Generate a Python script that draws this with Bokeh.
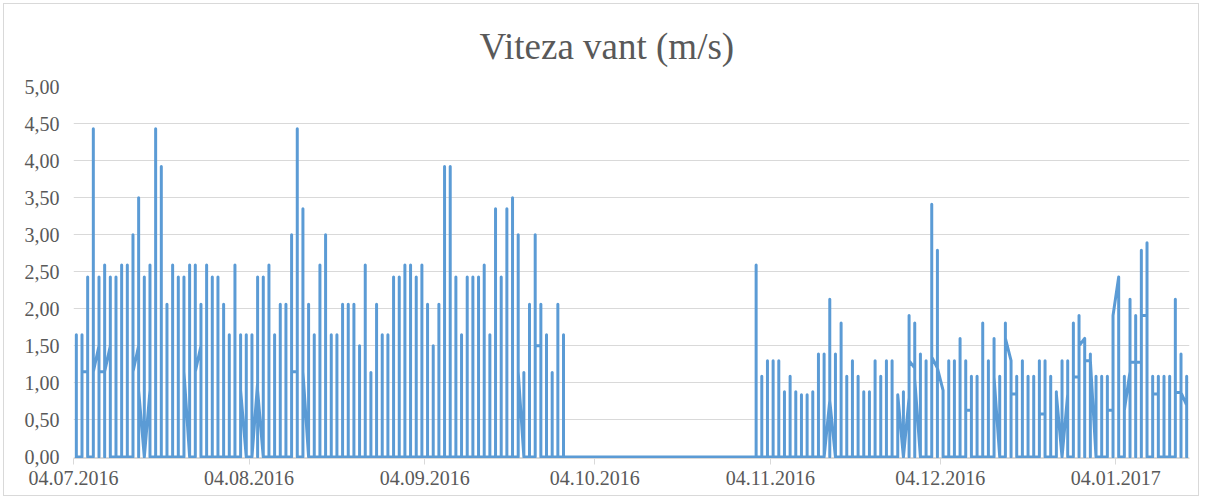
import pandas as pd
from bokeh.plotting import figure
from bokeh.models import Range1d, FixedTicker, CustomJSTickFormatter, DatetimeTickFormatter
from bokeh.embed import file_html
from bokeh.resources import INLINE

# ---------------- data ----------------
first_day = "2016-07-04"

# daily peak wind speed (m/s), one value per day starting 04.07.2016
peak = [
    1.65, 1.65, 2.43, 4.43, 2.43, 2.59, 2.43, 2.43, 2.59, 2.59,
    3.00, 3.50, 2.43, 2.59, 4.43, 3.92, 2.06, 2.59, 2.43, 2.43,
    2.59, 2.59, 2.06, 2.59, 2.43, 2.43, 2.06, 1.65, 2.59, 1.65,
    1.65, 1.65, 2.43, 2.43, 2.59, 1.65, 2.06, 2.06, 3.00, 4.43,
    3.35, 2.06, 1.65, 2.59, 3.00, 1.65, 1.65, 2.06, 2.06, 2.06,
    1.50, 2.59, 1.14, 2.06, 1.65, 1.65, 2.43, 2.43, 2.59, 2.59,
    2.43, 2.59, 2.06, 1.50, 2.06, 3.92, 3.92, 2.43, 1.65, 2.43,
    2.43, 2.43, 2.59, 1.65, 3.35, 2.43, 3.35, 3.50, 3.00, 1.14,
    2.06, 3.00, 2.06, 1.65, 1.14, 2.06, 1.65, 0.00, 0.00, 0.00,
    0.00, 0.00, 0.00, 0.00, 0.00, 0.00, 0.00, 0.00, 0.00, 0.00,
    0.00, 0.00, 0.00, 0.00, 0.00, 0.00, 0.00, 0.00, 0.00, 0.00,
    0.00, 0.00, 0.00, 0.00, 0.00, 0.00, 0.00, 0.00, 0.00, 0.00,
    2.59, 1.09, 1.30, 1.30, 1.30, 0.88, 1.09, 0.88, 0.84, 0.84,
    0.88, 1.39, 1.39, 2.13, 1.39, 1.81, 1.09, 1.30, 1.09, 0.88,
    0.88, 1.30, 1.09, 1.30, 1.30, 0.84, 0.88, 1.91, 1.81, 1.39,
    1.30, 3.41, 2.79, 0.90, 1.30, 1.30, 1.60, 1.30, 1.09, 1.09,
    1.81, 1.30, 1.60, 1.09, 1.81, 1.30, 1.09, 1.30, 1.09, 1.09,
    1.30, 1.30, 1.09, 0.88, 1.30, 1.30, 1.81, 1.91, 1.60, 1.39,
    1.09, 1.09, 1.09, 1.91, 2.43, 1.09, 2.13, 1.91, 2.79, 2.89,
    1.09, 1.09, 1.09, 1.09, 2.13, 1.39, 1.09,
]

# days whose last reading is not zero: level at the end of that day,
# and level of the first reading of the following day
link_day = [1, 3, 4, 5, 10, 11, 12, 19, 21, 29, 31, 32, 38, 40, 78, 81,
            132, 133, 145, 146, 147, 148, 151, 152, 157, 162, 164, 165,
            170, 173, 174, 176, 177, 178, 179, 182, 183, 185, 186, 187,
            188, 190, 194, 195]
link_end = [1.15, 1.15, 1.15, 1.15, 1.15, 0.90, 0.00, 1.15, 1.15, 0.90, 0.00, 0.90, 1.15, 1.15, 1.15, 1.50,
            0.00, 0.76, 0.84, 0.00, 1.30, 1.05, 1.35, 1.20, 0.63, 1.08, 1.60, 0.85,
            0.58, 0.85, 0.00, 1.08, 1.50, 1.30, 1.30, 0.63, 1.91, 0.63, 1.28, 1.28,
            1.91, 0.85, 0.87, 0.87]
link_next = [1.15, 1.50, 1.15, 1.50, 1.50, 0.00, 0.90, 0.00, 1.50, 0.00, 1.00, 0.00, 1.15, 0.00, 0.00, 1.50,
             0.76, 0.00, 0.00, 0.80, 1.20, 0.00, 1.20, 0.90, 0.63, 0.00, 1.30, 0.85,
             0.58, 0.00, 0.85, 1.08, 1.60, 1.30, 0.00, 0.63, 2.43, 1.15, 1.28, 1.28,
             1.91, 0.85, 0.87, 0.70]

tick_dates = ["2016-07-04", "2016-08-04", "2016-09-04", "2016-10-04",
              "2016-11-04", "2016-12-04", "2017-01-04"]
y_ticks = [0.0, 0.5, 1.0, 1.5, 2.0, 2.5, 3.0, 3.5, 4.0, 4.5, 5.0]

# ---------------- build the path (all readings of one day share the day's x) ----------------
n = len(peak)
days = pd.date_range(first_day, periods=n, freq="D")
centers = days + pd.Timedelta(hours=12)
start = [0.0] * n
end = [0.0] * n
for d, a, b in zip(link_day, link_end, link_next):
    end[d] = a
    if d + 1 < n:
        start[d + 1] = b

xs, ys = [], []
for i in range(n):
    for v in (start[i], peak[i], 0.0, end[i]):
        xs.append(centers[i].to_pydatetime())
        ys.append(v)

x0 = days[0].to_pydatetime()
x1 = (days[-1] + pd.Timedelta(days=1)).to_pydatetime()

SERIF = "'Liberation Serif', 'Times New Roman', serif"

p = figure(width=1196, height=493, x_axis_type="datetime",
           x_range=Range1d(x0, x1), y_range=Range1d(-0.02, 5.0),
           output_backend="svg", toolbar_location=None,
           min_border_left=69, min_border_right=11, min_border_top=81, min_border_bottom=39)

p.line(xs, ys, line_color="#5b9bd5", line_width=3, line_join="round", line_cap="round")

# title
p.title.text = "Viteza vant (m/s)"
p.title.text_font = SERIF
p.title.text_font_size = "37px"
p.title.text_font_style = "normal"
p.title.text_color = "#595959"
p.title.align = "left"
p.title.offset = 406
p.title.standoff = 39

p.outline_line_color = None
p.background_fill_color = "white"
p.border_fill_color = "white"
p.styles = {"border": "1px solid #d9d9d9", "margin": "3px 0px 0px 3px"}

p.xgrid.visible = False
p.ygrid.grid_line_color = "#d9d9d9"
p.ygrid.grid_line_width = 1

# y axis
p.yaxis.ticker = FixedTicker(ticks=y_ticks)
p.yaxis.formatter = CustomJSTickFormatter(code="return tick.toFixed(2).replace('.', ',');")
p.yaxis.axis_line_color = None
p.yaxis.major_tick_line_color = None
p.yaxis.minor_tick_line_color = None
p.yaxis.major_tick_out = 0
p.yaxis.major_label_standoff = 14
p.yaxis.major_label_text_font = SERIF
p.yaxis.major_label_text_font_size = "20px"
p.yaxis.major_label_text_color = "#595959"

# x axis
tick_ms = [pd.Timestamp(d).value // 10**6 for d in tick_dates]
p.xaxis.ticker = FixedTicker(ticks=tick_ms)
fmt = "%d.%m.%Y"
p.xaxis.formatter = DatetimeTickFormatter(milliseconds=fmt, seconds=fmt, minsec=fmt, minutes=fmt,
                                          hourmin=fmt, hours=fmt, days=fmt, months=fmt, years=fmt)
p.xaxis.axis_line_color = "#d9d9d9"
p.xaxis.major_tick_line_color = "#d9d9d9"
p.xaxis.minor_tick_line_color = None
p.xaxis.major_tick_in = 0
p.xaxis.major_tick_out = 6
p.xaxis.major_label_standoff = 6
p.xaxis.major_label_text_font = SERIF
p.xaxis.major_label_text_font_size = "20px"
p.xaxis.major_label_text_color = "#595959"

open("out.html", "w").write(file_html(p, INLINE))
